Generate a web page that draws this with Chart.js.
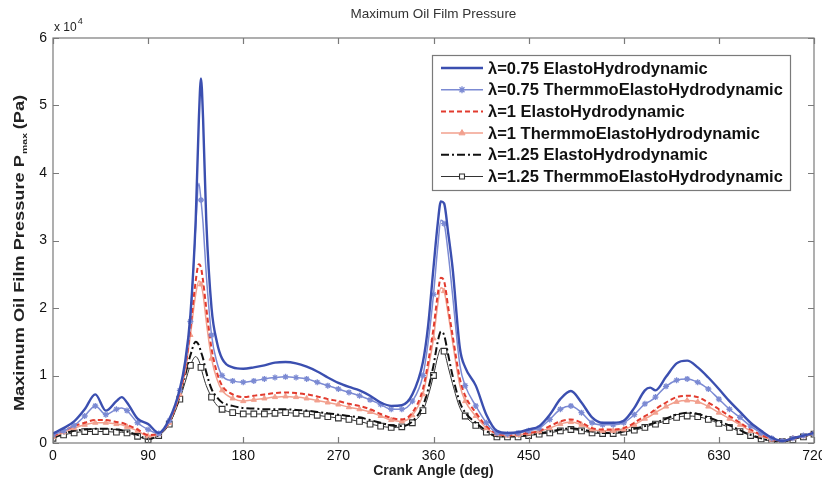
<!DOCTYPE html>
<html>
<head>
<meta charset="utf-8">
<title>Maximum Oil Film Pressure</title>
<script src="https://cdn.jsdelivr.net/npm/chart.js@4.4.1/dist/chart.umd.min.js"></script>
<style>
  html, body { margin: 0; padding: 0; background: #fff; }
  #wrap { width: 822px; height: 481px; }
</style>
</head>
<body>
<div id="wrap"><canvas id="pressureChart" width="822" height="481"></canvas></div>
<script>
// crank angle (deg), denser around the two pressure peaks
var angles = [0,10,20,30,40,50,60,65,70,80,90,100,110,120,125,130,135,138,140,142,145,150,155,160,170,180,
  190,200,210,220,230,240,250,260,270,280,290,300,310,320,330,340,350,355,360,364,367,370,374,378,385,390,400,410,420,
  430,440,450,460,470,480,490,500,510,520,530,540,550,560,565,570,580,590,600,610,620,630,640,650,660,670,680,690,700,710,720];

// maximum film pressure, in units of 10^4 Pa
var ehd075 = [0.14,0.22,0.32,0.5,0.72,0.48,0.62,0.68,0.6,0.36,0.28,
  0.15,0.35,
  0.8,1.2,1.9,3.3,4.8,5.4,4.8,3.3,2.0,1.5,1.25,1.12,1.1,
  1.12,1.15,1.19,1.2,1.18,1.13,1.06,0.97,0.89,0.83,0.78,0.7,0.6,0.55,0.56,0.72,
  1.2,1.75,2.6,3.25,3.58,3.55,3.1,2.6,1.4,1.12,0.85,0.42,0.18,
  0.15,0.16,0.2,0.25,0.42,0.65,0.77,0.6,0.38,0.3,0.3,0.33,0.52,0.78,0.82,0.78,0.98,1.18,1.22,1.12,0.97,0.8,0.62,0.46,0.3,0.18,0.08,0.03,0.07,0.11,0.15];
var tehd075 = [0.12,0.18,0.26,0.4,0.55,0.42,0.5,0.52,0.48,0.3,0.2,
  0.14,0.33,
  0.78,1.15,1.8,3.2,3.85,3.6,3.25,2.5,1.6,1.2,1.0,0.92,0.9,
  0.92,0.95,0.97,0.98,0.97,0.95,0.9,0.85,0.8,0.75,0.7,0.64,0.57,0.5,0.5,0.62,
  1.0,1.5,2.2,2.9,3.3,3.25,2.8,2.2,1.15,0.85,0.55,0.3,0.15,
  0.13,0.15,0.18,0.22,0.35,0.5,0.55,0.45,0.3,0.27,0.27,0.3,0.42,0.58,0.62,0.68,0.84,0.93,0.95,0.9,0.8,0.65,0.5,0.38,0.25,0.15,0.07,0.03,0.07,0.11,0.14];
var ehd100 = [0.1,0.18,0.25,0.3,0.34,0.34,0.31,0.3,0.27,0.2,0.12,
  0.14,0.32,
  0.75,1.1,1.7,2.4,2.65,2.6,2.4,2.0,1.4,1.05,0.85,0.72,0.68,
  0.7,0.72,0.74,0.75,0.74,0.72,0.69,0.65,0.62,0.58,0.55,0.5,0.43,0.37,0.35,0.45,
  0.8,1.2,1.7,2.2,2.45,2.4,2.0,1.6,0.95,0.7,0.45,0.25,0.14,
  0.12,0.13,0.15,0.18,0.25,0.32,0.35,0.3,0.22,0.2,0.2,0.22,0.3,0.4,0.44,0.5,0.6,0.68,0.7,0.68,0.6,0.5,0.4,0.3,0.2,0.12,0.06,0.03,0.07,0.11,0.15];
var tehd100 = [0.09,0.16,0.22,0.27,0.3,0.3,0.28,0.27,0.24,0.18,0.1,
  0.13,0.3,
  0.72,1.05,1.6,2.2,2.4,2.35,2.2,1.8,1.25,0.95,0.78,0.66,0.62,
  0.64,0.66,0.68,0.69,0.68,0.66,0.63,0.6,0.57,0.53,0.5,0.46,0.4,0.34,0.32,0.41,
  0.72,1.1,1.55,2.05,2.3,2.25,1.9,1.5,0.85,0.62,0.4,0.22,0.13,
  0.11,0.12,0.14,0.17,0.22,0.28,0.31,0.27,0.2,0.18,0.18,0.2,0.27,0.36,0.4,0.45,0.54,0.61,0.63,0.61,0.54,0.45,0.36,0.27,0.18,0.11,0.05,0.03,0.07,0.1,0.14];
var ehd125 = [0.08,0.14,0.18,0.2,0.21,0.21,0.2,0.19,0.17,0.12,0.06,
  0.12,0.3,
  0.7,1.0,1.3,1.5,1.45,1.35,1.25,1.05,0.8,0.68,0.6,0.55,0.52,
  0.51,0.5,0.5,0.5,0.49,0.48,0.46,0.44,0.42,0.4,0.38,0.34,0.3,0.26,0.25,0.32,
  0.55,0.8,1.15,1.5,1.65,1.6,1.3,1.0,0.6,0.45,0.3,0.18,0.1,
  0.1,0.1,0.12,0.14,0.17,0.2,0.22,0.2,0.17,0.15,0.15,0.17,0.21,0.25,0.28,0.3,0.36,0.42,0.45,0.43,0.38,0.32,0.26,0.19,0.12,0.07,0.03,0.02,0.06,0.1,0.14];
var tehd125 = [0.07,0.12,0.15,0.17,0.17,0.17,0.16,0.16,0.15,0.1,0.05,
  0.11,0.28,
  0.65,0.9,1.15,1.28,1.22,1.12,1.0,0.85,0.68,0.56,0.5,0.45,0.43,
  0.43,0.43,0.44,0.45,0.44,0.43,0.41,0.39,0.37,0.35,0.32,0.28,0.25,0.23,0.24,0.3,
  0.48,0.7,1.0,1.28,1.4,1.36,1.12,0.88,0.52,0.4,0.26,0.16,0.09,
  0.09,0.09,0.11,0.13,0.15,0.18,0.2,0.18,0.15,0.14,0.14,0.16,0.19,0.23,0.26,0.28,0.33,0.38,0.4,0.39,0.35,0.29,0.23,0.17,0.11,0.06,0.03,0.02,0.05,0.09,0.13];

var seriesLabels = [
  "λ=0.75 ElastoHydrodynamic",
  "λ=0.75 ThermmoElastoHydrodynamic",
  "λ=1 ElastoHydrodynamic",
  "λ=1 ThermmoElastoHydrodynamic",
  "λ=1.25 ElastoHydrodynamic",
  "λ=1.25 ThermmoElastoHydrodynamic"
];
var xTicks = [0,90,180,270,360,450,540,630,720];
var yTicks = [0,1,2,3,4,5,6];

var FONT = '"Liberation Sans", Arial, Helvetica, sans-serif';

function toPoints(values) {
    return angles.map(function (a, i) { return { x: a, y: values[i] }; });
}
// markers only every 10 degrees, like the original plot
function markerEvery10(r) {
    return function (ctx) { return angles[ctx.dataIndex] % 10 === 0 ? r : 0; };
}

var datasets = [
    { label: seriesLabels[0], data: toPoints(ehd075), borderColor: '#3b4fb0', borderWidth: 2.4, pointRadius: 0 },
    { label: seriesLabels[1], data: toPoints(tehd075), borderColor: '#7b8ad3', backgroundColor: '#7b8ad3', borderWidth: 1.5,
      pointStyle: 'star', pointRadius: markerEvery10(3), pointBorderWidth: 1.3 },
    { label: seriesLabels[2], data: toPoints(ehd100), borderColor: '#e23b2e', borderWidth: 2, borderDash: [5, 3], pointRadius: 0 },
    { label: seriesLabels[3], data: toPoints(tehd100), borderColor: '#f2a08e', backgroundColor: '#f2a08e', borderWidth: 1.5,
      pointStyle: 'triangle', pointRadius: markerEvery10(3), pointBorderWidth: 1 },
    { label: seriesLabels[4], data: toPoints(ehd125), borderColor: '#111111', borderWidth: 2, borderDash: [8, 3, 2, 3], pointRadius: 0 },
    { label: seriesLabels[5], data: toPoints(tehd125), borderColor: '#333333', backgroundColor: '#ffffff', borderWidth: 1,
      pointStyle: 'rect', pointRadius: markerEvery10(4), pointBorderWidth: 1.1 }
];
datasets.forEach(function (d) {
    d.fill = false;
    d.cubicInterpolationMode = 'monotone';
    if (d.pointBorderColor === undefined) d.pointBorderColor = d.borderColor;
});

// box, inward ticks, titles and the legend the way MATLAB draws them
var matlabAxes = {
    id: 'matlabAxes',
    afterDraw: function (chart) {
        var ctx = chart.ctx;
        var a = chart.chartArea;
        var xs = chart.scales.x, ys = chart.scales.y;
        ctx.save();

        // frame
        ctx.strokeStyle = '#7a7a7a';
        ctx.lineWidth = 1.2;
        ctx.strokeRect(a.left, a.top, a.right - a.left, a.bottom - a.top);
        ctx.beginPath();
        xTicks.forEach(function (v) {
            var px = Math.round(xs.getPixelForValue(v)) + 0.5;
            ctx.moveTo(px, a.bottom); ctx.lineTo(px, a.bottom - 6);
            ctx.moveTo(px, a.top); ctx.lineTo(px, a.top + 6);
        });
        yTicks.forEach(function (v) {
            var py = Math.round(ys.getPixelForValue(v)) + 0.5;
            ctx.moveTo(a.left, py); ctx.lineTo(a.left + 6, py);
            ctx.moveTo(a.right, py); ctx.lineTo(a.right - 6, py);
        });
        ctx.stroke();

        // title
        ctx.fillStyle = '#333';
        ctx.textAlign = 'center';
        ctx.textBaseline = 'middle';
        ctx.font = '13.5px ' + FONT;
        ctx.fillText('Maximum Oil Film Pressure', (a.left + a.right) / 2, 14);

        // exponent
        ctx.fillStyle = '#222';
        ctx.textAlign = 'left';
        ctx.font = '12px ' + FONT;
        ctx.fillText('x 10', a.left + 1, 28);
        var ew = ctx.measureText('x 10').width;
        ctx.font = '9px ' + FONT;
        ctx.fillText('4', a.left + 2 + ew, 22);

        // x label
        ctx.textAlign = 'center';
        ctx.font = 'bold 14px ' + FONT;
        ctx.fillText('Crank Angle (deg)', (a.left + a.right) / 2, 471);

        // y label with subscript
        ctx.save();
        ctx.translate(20, 253);
        ctx.rotate(-Math.PI / 2);
        ctx.scale(1.3, 1);
        var main = 'Maximum Oil Film Pressure P', tail = ' (Pa)';
        ctx.font = 'bold 14px ' + FONT;
        var w1 = ctx.measureText(main).width, w3 = ctx.measureText(tail).width;
        ctx.font = 'bold 8px ' + FONT;
        var w2 = ctx.measureText('max').width;
        var x0 = -(w1 + w2 + w3) / 2;
        ctx.textAlign = 'left';
        ctx.font = 'bold 14px ' + FONT;
        ctx.fillText(main, x0, 0);
        ctx.fillText(tail, x0 + w1 + w2, 0);
        ctx.font = 'bold 8px ' + FONT;
        ctx.fillText('max', x0 + w1 + 1, 5);
        ctx.restore();

        // legend
        var lx = 432, ly = 55, lw = 358, lh = 135;
        ctx.fillStyle = '#fff';
        ctx.fillRect(lx, ly, lw, lh);
        ctx.strokeStyle = '#7a7a7a';
        ctx.lineWidth = 1.2;
        ctx.strokeRect(lx + 0.5, ly + 0.5, lw, lh);
        chart.data.datasets.forEach(function (d, i) {
            var y = ly + 13 + i * 21.7;
            ctx.save();
            ctx.strokeStyle = d.borderColor;
            ctx.lineWidth = d.borderWidth;
            ctx.setLineDash(d.borderDash || []);
            ctx.beginPath();
            ctx.moveTo(lx + 9, y);
            ctx.lineTo(lx + 51, y);
            ctx.stroke();
            ctx.setLineDash([]);
            if (d.pointStyle) {
                ctx.fillStyle = d.backgroundColor;
                ctx.strokeStyle = d.pointBorderColor;
                ctx.lineWidth = d.pointBorderWidth;
                Chart.helpers.drawPoint(ctx, { pointStyle: d.pointStyle, radius: 3.5, rotation: 0, borderWidth: d.pointBorderWidth }, lx + 30, y);
            }
            ctx.restore();
            ctx.fillStyle = '#111';
            ctx.textAlign = 'left';
            ctx.font = 'bold 16.5px ' + FONT;
            ctx.fillText(d.label, lx + 56, y + 1);
        });

        ctx.restore();
    }
};

var chart = new Chart(document.getElementById('pressureChart').getContext('2d'), {
    type: 'line',
    data: { datasets: datasets },
    options: {
        responsive: false,
        animation: false,
        devicePixelRatio: 1,
        layout: { padding: { top: 38, right: 8, left: 0, bottom: 0 } },
        plugins: { legend: { display: false }, title: { display: false }, tooltip: { enabled: false } },
        scales: {
            x: {
                type: 'linear', min: 0, max: 720,
                afterBuildTicks: function (s) { s.ticks = xTicks.map(function (v) { return { value: v }; }); },
                afterFit: function (s) { s.height = 38; s.paddingLeft = 0; s.paddingRight = 0; },
                grid: { display: false, drawTicks: false },
                border: { display: false },
                ticks: { autoSkip: false, maxRotation: 0, padding: 5, color: '#111', font: { family: FONT, size: 14 } }
            },
            y: {
                min: 0, max: 6,
                afterBuildTicks: function (s) { s.ticks = yTicks.map(function (v) { return { value: v }; }); },
                afterFit: function (s) { s.width = 53; s.paddingTop = 0; s.paddingBottom = 0; },
                grid: { display: false, drawTicks: false },
                border: { display: false },
                ticks: { padding: 6, color: '#111', font: { family: FONT, size: 14 } }
            }
        }
    },
    plugins: [matlabAxes]
});
</script>
</body>
</html>
